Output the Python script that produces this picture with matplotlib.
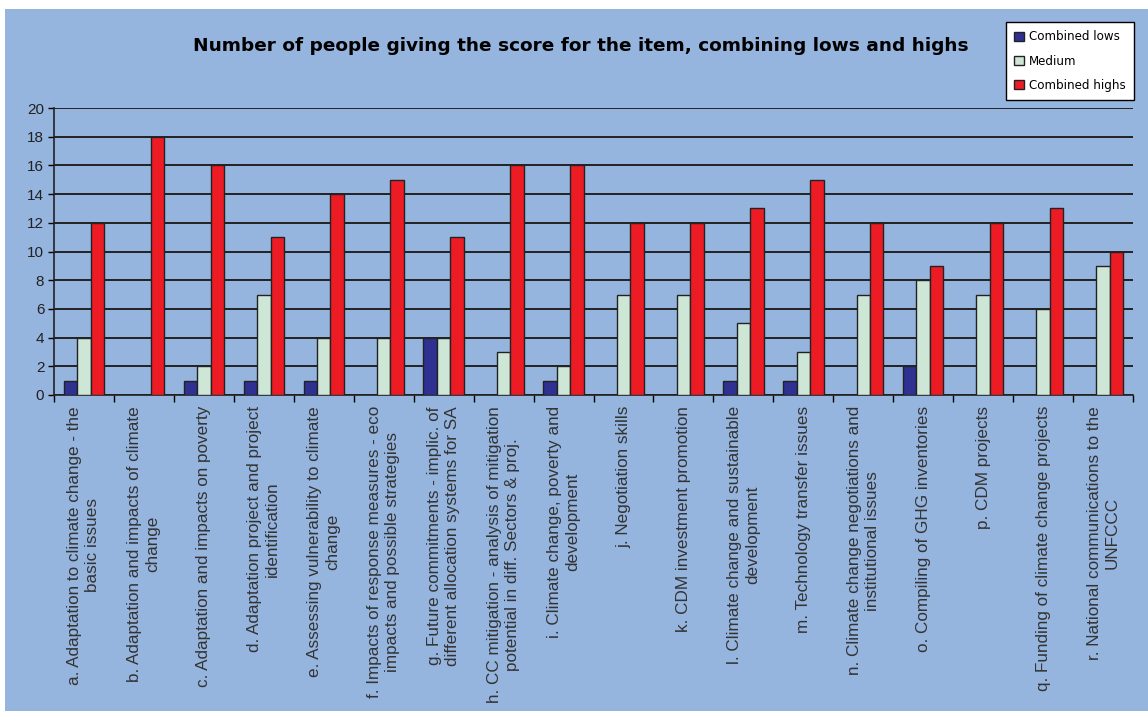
import matplotlib.pyplot as plt
import matplotlib.patches as mpatches
import numpy as np

plt.rcParams['font.family'] = ['Liberation Sans', 'DejaVu Sans']

# Data
items = [
    'a. Adaptation to climate change - the\nbasic issues',
    'b. Adaptation and impacts of climate\nchange',
    'c. Adaptation and impacts on poverty',
    'd. Adaptation project and project\nidentification',
    'e. Assessing vulnerability to climate\nchange',
    'f. Impacts of response measures - eco\nimpacts and possible strategies',
    'g. Future commitments - implic. of\ndifferent allocation systems for SA',
    'h. CC mitigation - analysis of mitigation\npotential in diff. Sectors & proj.',
    'i. Climate change, poverty and\ndevelopment',
    'j. Negotiation skills',
    'k. CDM investment promotion',
    'l. Climate change and sustainable\ndevelopment',
    'm. Technology transfer issues',
    'n. Climate change negotiations and\ninstitutional issues',
    'o. Compiling of GHG inventories',
    'p. CDM projects',
    'q. Funding of climate change projects',
    'r. National communications to the\nUNFCCC',
]
combined_lows = [1, 0, 1, 1, 1, 0, 4, 0, 1, 0, 0, 1, 1, 0, 2, 0, 0, 0]
medium = [4, 0, 2, 7, 4, 4, 4, 3, 2, 7, 7, 5, 3, 7, 8, 7, 6, 9]
combined_highs = [12, 18, 16, 11, 14, 15, 11, 16, 16, 12, 12, 13, 15, 12, 9, 12, 13, 10]

bg = '#95b4de'
fig = plt.figure(figsize=(11.48, 7.11), dpi=100, facecolor='white')
# blue chart area with a thin white margin at top and left
fig.patches.append(mpatches.Rectangle((5 / 1148, 0), 1, 1 - 9 / 711,
                                      transform=fig.transFigure, facecolor=bg,
                                      edgecolor='none', zorder=-1))

ax = fig.add_axes([54 / 1148, 1 - 395 / 711, (1133 - 54) / 1148, (395 - 108) / 711])
ax.set_facecolor(bg)

x = np.arange(len(items))
w = 0.225
series = [
    (combined_lows, '#2e3192', 'Combined lows'),
    (medium, '#cde6d6', 'Medium'),
    (combined_highs, '#ed1c24', 'Combined highs'),
]
for i, (vals, col, lab) in enumerate(series):
    ax.bar(x + (i - 1) * w, vals, w, color=col, edgecolor='#222222',
           linewidth=1.0, label=lab, zorder=3)

ax.set_xlim(-0.5, len(items) - 0.5)
ax.set_ylim(0, 20)
ax.set_yticks(range(0, 21, 2))
ax.tick_params(axis='y', labelsize=11, length=4, width=1, pad=3, labelcolor='#222222')
ax.yaxis.grid(True, color='#222222', linewidth=1.4, zorder=1)
ax.set_axisbelow(True)

ax.set_xticks(x)
ax.set_xticklabels(items, rotation=90, fontsize=12.3, color='#333333',
                   multialignment='center', linespacing=1.25)
ax.tick_params(axis='x', which='major', length=0, pad=8)
ax.set_xticks(np.arange(-0.5, len(items), 1), minor=True)
ax.tick_params(axis='x', which='minor', length=5, width=1)

for s in ['top', 'right']:
    ax.spines[s].set_visible(False)
for s in ['left', 'bottom']:
    ax.spines[s].set_linewidth(1.2)
    ax.spines[s].set_color('#222222')

fig.text(0.506, 1 - 46 / 711, 'Number of people giving the score for the item, combining lows and highs',
         ha='center', va='center', fontsize=13.3, fontweight='bold', family='DejaVu Sans')

leg = fig.legend(loc='upper left', bbox_to_anchor=(1006 / 1148, 1 - 22 / 711),
                 borderaxespad=0, prop={'family': 'DejaVu Sans', 'size': 8.6},
                 frameon=True, fancybox=False,
                 edgecolor='black', handlelength=0.8, handleheight=0.8,
                 handletextpad=0.4, labelspacing=0.95, borderpad=0.7)
leg.get_frame().set_linewidth(1.0)
leg.get_frame().set_facecolor('white')
leg.get_frame().set_alpha(1)

fig.savefig('out.png', dpi=100, facecolor=fig.get_facecolor())
